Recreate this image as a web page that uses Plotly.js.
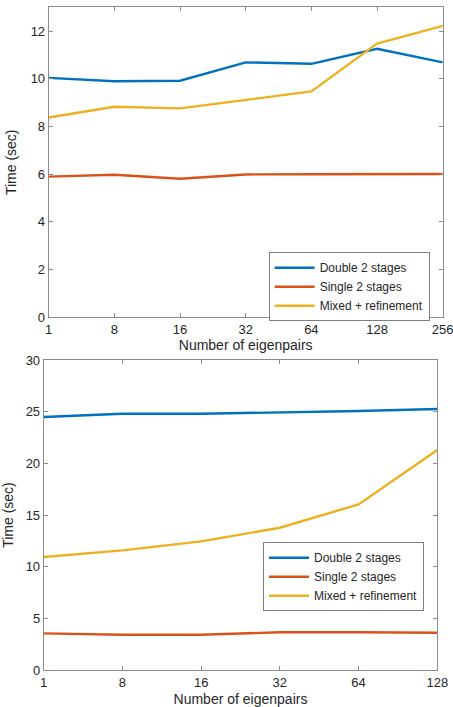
<!DOCTYPE html>
<html>
<head>
<meta charset="utf-8">
<script src="https://cdn.plot.ly/plotly-3.0.1.min.js"></script>
<style>html,body{margin:0;padding:0;background:#fff;}#chart{width:453px;height:707px;}</style>
</head>
<body>
<div id="chart"></div>
<script>
// Top panel
var topCategories = ["1", "8", "16", "32", "64", "128", "256"];
var topDouble = [10.04, 9.90, 9.92, 10.69, 10.63, 11.26, 10.69];
var topSingle = [5.90, 5.98, 5.81, 5.99, 6.00, 6.02, 6.01];
var topMixed = [8.38, 8.83, 8.76, 9.12, 9.47, 11.48, 12.22];
// Bottom panel
var bottomCategories = ["1", "8", "16", "32", "64", "128"];
var bottomDouble = [24.48, 24.80, 24.80, 24.90, 25.06, 25.26];
var bottomSingle = [3.55, 3.42, 3.42, 3.65, 3.65, 3.61];
var bottomMixed = [10.94, 11.58, 12.45, 13.77, 16.03, 21.29];
var seriesNames = ["Double 2 stages", "Single 2 stages", "Mixed + refinement"];
var yTicksTop = [0, 2, 4, 6, 8, 10, 12];
var yTicksBottom = [0, 5, 10, 15, 20, 25, 30];

var colors = ["#0072BD", "#D95319", "#EDB120"];
var lw = 2.4;
function tr(x, y, i, xa, ya, lg) {
  return {x: x, y: y, name: seriesNames[i], type: "scatter", mode: "lines",
    line: {color: colors[i], width: lw}, xaxis: xa, yaxis: ya, legend: lg};
}
var data = [
  tr(topCategories, topDouble, 0, "x", "y", "legend"),
  tr(topCategories, topSingle, 1, "x", "y", "legend"),
  tr(topCategories, topMixed, 2, "x", "y", "legend"),
  tr(bottomCategories, bottomDouble, 0, "x2", "y2", "legend2"),
  tr(bottomCategories, bottomSingle, 1, "x2", "y2", "legend2"),
  tr(bottomCategories, bottomMixed, 2, "x2", "y2", "legend2")
];
var fam = "Liberation Sans, Arial, sans-serif";
var font = {family: fam, size: 13, color: "#262626"};
var axisCommon = {showline: true, linecolor: "#8c8c8c", linewidth: 1, mirror: "ticks",
  ticks: "inside", ticklen: 4, tickcolor: "#8c8c8c", showgrid: false, zeroline: false,
  tickfont: {family: fam, size: 13, color: "#262626"}};
function ax(extra) { return Object.assign({}, axisCommon, extra); }
var titleFont = {family: fam, size: 14, color: "#262626"};
var legendCommon = {bgcolor: "#ffffff", bordercolor: "#7f7f7f", borderwidth: 1,
  font: {family: fam, size: 12, color: "#262626"}, xanchor: "left", yanchor: "middle",
  tracegroupgap: 0, itemwidth: 40};
var layout = {
  width: 453, height: 707, showlegend: true,
  margin: {l: 0, r: 0, t: 0, b: 0},
  paper_bgcolor: "#ffffff", plot_bgcolor: "#ffffff", font: font,
  xaxis: ax({domain: [0.1075, 0.9773], anchor: "y", type: "category", range: [0, 6],
    title: {text: "Number of eigenpairs", font: titleFont, standoff: 4}}),
  yaxis: ax({domain: [0.5512, 0.9897], anchor: "x", range: [0, 13], tickvals: yTicksTop,
    title: {text: "Time (sec)", font: titleFont, standoff: 10}}),
  xaxis2: ax({domain: [0.0965, 0.9653], anchor: "y2", type: "category", range: [0, 5],
    title: {text: "Number of eigenpairs", font: titleFont, standoff: 6}}),
  yaxis2: ax({domain: [0.0523, 0.4908], anchor: "x2", range: [0, 30], tickvals: yTicksBottom,
    title: {text: "Time (sec)", font: titleFont, standoff: 10}}),
  legend: Object.assign({}, legendCommon, {x: 0.593, y: 0.5945}),
  legend2: Object.assign({}, legendCommon, {x: 0.5806, y: 0.1843})
};
Plotly.newPlot("chart", data, layout, {displayModeBar: false, staticPlot: true});
</script>
</body>
</html>
